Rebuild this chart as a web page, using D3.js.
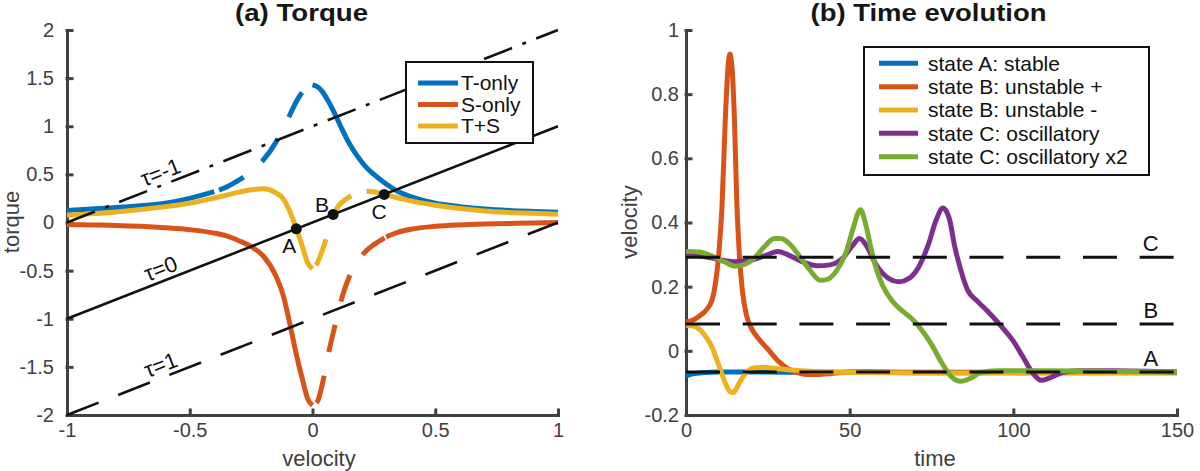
<!DOCTYPE html>
<html>
<head>
<meta charset="utf-8">
<script src="https://cdn.jsdelivr.net/npm/d3@7"></script>
<style>
    body { margin: 0; background: #fff; }
    text { font-family: "Liberation Sans", Arial, Helvetica, sans-serif; }
</style>
</head>
<body>
<div id="chart"></div>
<script>
'use strict';

/* ---------- Data: panel (a) torque vs velocity ---------- */
const velocityGrid = [-1, -0.9, -0.8, -0.7, -0.6, -0.5, -0.4, -0.35, -0.3, -0.25, -0.2, -0.15, -0.12,
    -0.09, -0.065, -0.04, -0.02, 0, 0.02, 0.04, 0.06, 0.085, 0.1, 0.12, 0.15, 0.18, 0.22, 0.25,
    0.3, 0.35, 0.4, 0.5, 0.6, 0.7, 0.8, 0.9, 1];
const torqueTOnly = [0.125, 0.14, 0.155, 0.175, 0.2, 0.25, 0.32, 0.37, 0.44, 0.53, 0.65, 0.83, 0.97,
    1.13, 1.26, 1.36, 1.41, 1.43, 1.41, 1.36, 1.28, 1.16, 1.08, 0.97, 0.82, 0.7, 0.57, 0.5,
    0.4, 0.32, 0.27, 0.2, 0.165, 0.14, 0.125, 0.115, 0.107];
const torqueSOnly = [-0.02, -0.025, -0.03, -0.04, -0.055, -0.075, -0.11, -0.14, -0.19, -0.25, -0.35, -0.55, -0.75,
    -1.08, -1.38, -1.64, -1.83, -1.9, -1.86, -1.68, -1.42, -1.14, -0.98, -0.78, -0.56, -0.42, -0.29, -0.23,
    -0.15, -0.1, -0.07, -0.04, -0.025, -0.016, -0.01, -0.005, 0];
const torqueTS = [0.075, 0.09, 0.11, 0.135, 0.165, 0.2, 0.255, 0.285, 0.315, 0.34, 0.35, 0.31, 0.25,
    0.1, -0.07, -0.26, -0.42, -0.48, -0.42, -0.29, -0.13, 0.08, 0.15, 0.21, 0.265, 0.305, 0.325, 0.32,
    0.285, 0.255, 0.225, 0.18, 0.145, 0.12, 0.105, 0.095, 0.085];
const torqueNames = ['T-only', 'S-only', 'T+S'];
// velocity interval drawn dashed (unstable branch) for each torque curve
const unstableRanges = [[-0.4, 0], [0, 0.3], [0, 0.22]];
const tauValues = [-1, 0, 1];
const fixedPointNames = ['A', 'B', 'C'];
const fixedPointVelocity = [-0.066, 0.084, 0.292];
const torqueXTicks = [-1, -0.5, 0, 0.5, 1];
const torqueYTicks = [-2, -1.5, -1, -0.5, 0, 0.5, 1, 1.5, 2];

/* ---------- Data: panel (b) velocity vs time ---------- */
const stateA = [[0, -0.078], [2, -0.072], [5, -0.068], [10, -0.066], [20, -0.066], [40, -0.067],
    [60, -0.067], [80, -0.067], [100, -0.067], [120, -0.067], [150, -0.067]];
const stateBPlus = [[0, 0.09], [2, 0.095], [4, 0.108], [6, 0.125], [8, 0.16], [9, 0.21], [10, 0.3],
    [11, 0.45], [12, 0.72], [12.8, 0.88], [13.4, 0.925], [14, 0.89], [14.8, 0.72], [15.5, 0.47],
    [16.3, 0.3], [17.2, 0.19], [18.5, 0.11], [20, 0.07], [22, 0.04], [25, 0.005], [28, -0.03],
    [31, -0.055], [34, -0.068], [37, -0.074], [40, -0.074], [45, -0.07], [50, -0.066], [55, -0.065],
    [60, -0.066], [70, -0.068], [100, -0.068], [150, -0.068]];
const stateBMinus = [[0, 0.08], [2, 0.078], [4, 0.068], [6, 0.045], [8, 0.01], [10, -0.045], [12, -0.1],
    [13.5, -0.128], [14.5, -0.13], [15.5, -0.115], [17, -0.088], [19, -0.062], [21, -0.053], [24, -0.052],
    [28, -0.056], [35, -0.062], [45, -0.066], [60, -0.068], [80, -0.069], [150, -0.068]];
const stateC = [[0, 0.3], [5, 0.295], [10, 0.285], [15, 0.278], [20, 0.283], [25, 0.3], [28, 0.31],
    [31, 0.3], [35, 0.28], [40, 0.265], [44, 0.268], [48, 0.29], [51, 0.33], [53, 0.35], [55, 0.33],
    [58, 0.27], [62, 0.225], [65, 0.215], [68, 0.225], [71, 0.26], [74, 0.33], [76.5, 0.41],
    [78.5, 0.445], [80.5, 0.41], [82, 0.33], [84, 0.25], [86, 0.19], [89, 0.155], [92, 0.125],
    [96, 0.08], [100, 0.03], [103, -0.02], [106, -0.07], [108.5, -0.092], [111, -0.085], [115, -0.068],
    [120, -0.062], [130, -0.062], [150, -0.066]];
const stateC2 = [[0, 0.31], [4, 0.308], [8, 0.295], [12, 0.276], [15, 0.264], [18, 0.27], [21, 0.29],
    [24, 0.325], [27, 0.35], [29, 0.35], [32, 0.33], [35, 0.29], [38, 0.25], [41, 0.22], [43, 0.222],
    [46, 0.25], [49, 0.31], [51, 0.38], [53.3, 0.44], [55, 0.39], [56.5, 0.32], [58, 0.26], [60, 0.205],
    [63, 0.155], [66, 0.125], [69, 0.1], [72, 0.065], [75, 0.02], [78, -0.035], [81, -0.08], [84, -0.095],
    [87, -0.085], [90, -0.068], [95, -0.062], [105, -0.062], [120, -0.063], [150, -0.066]];
const stateNames = ['state A: stable', 'state B: unstable +', 'state B: unstable -',
    'state C: oscillatory', 'state C: oscillatory x2'];
const timeXTicks = [0, 50, 100, 150];
const timeYTicks = [-0.2, 0, 0.2, 0.4, 0.6, 0.8, 1];

/* ---------- Style ---------- */
const colors = ['#0072BD', '#D95319', '#EDB120', '#7E2F8E', '#77AC30'];
const axisColor = '#404040';
const curveWidth = 5;

const svg = d3.select('#chart').append('svg')
    .attr('width', 1200)
    .attr('height', 471)
    .style('background', '#fff');

/*
drawAxes: MATLAB-like left/bottom axes with inward ticks
*/
function drawAxes(g, x, y, xTicks, yTicks, yPad) {
    const xAxis = g.append('g')
        .attr('transform', `translate(0,${y.range()[0]})`)
        .call(d3.axisBottom(x).tickValues(xTicks).tickFormat(d => String(d))
            .tickSizeInner(-5).tickSizeOuter(0).tickPadding(8));
    const yAxis = g.append('g')
        .attr('transform', `translate(${x.range()[0]},0)`)
        .call(d3.axisLeft(y).tickValues(yTicks).tickFormat(d => String(d))
            .tickSizeInner(-5).tickSizeOuter(0).tickPadding(yPad));
    [xAxis, yAxis].forEach(a => {
        a.attr('font-family', null).attr('font-size', null);
        a.selectAll('path, line').attr('stroke', axisColor).attr('stroke-width', 3)
            .attr('stroke-linecap', 'square');
        a.selectAll('text').attr('fill', axisColor).attr('font-size', 20);
    });
}

/*
drawTitle: bold panel title, stretched to the width seen in the figure
*/
function drawTitle(g, cx, label, width) {
    g.append('text')
        .attr('x', cx).attr('y', 21)
        .attr('text-anchor', 'middle')
        .attr('font-size', 24).attr('font-weight', 'bold').attr('fill', '#161616')
        .attr('textLength', width).attr('lengthAdjust', 'spacingAndGlyphs')
        .text(label);
}

/*
drawLegend: boxed legend with line samples
*/
function drawLegend(g, cfg, names) {
    const lg = g.append('g');
    lg.append('rect')
        .attr('x', cfg.x).attr('y', cfg.y)
        .attr('width', cfg.w).attr('height', cfg.h)
        .attr('fill', '#fff').attr('stroke', '#111').attr('stroke-width', 2);
    names.forEach((name, i) => {
        const ry = cfg.row0 + i * cfg.rowStep;
        lg.append('line')
            .attr('x1', cfg.lineX[0]).attr('x2', cfg.lineX[1])
            .attr('y1', ry).attr('y2', ry)
            .attr('stroke', colors[i]).attr('stroke-width', curveWidth);
        lg.append('text')
            .attr('x', cfg.textX).attr('y', ry).attr('dy', '0.35em')
            .attr('font-size', 21).attr('fill', '#111')
            .text(name);
    });
}

/* `````````````````````````````````\
    Class: TorquePanel  (a)          |
 ``````````````````````````````````*/
class TorquePanel {

    constructor(_svg) {
        this.svg = _svg;
        this.initVis();
    }

    initVis() {
        const vis = this;
        vis.x = d3.scaleLinear().domain([-1, 1]).range([67, 558]);
        vis.y = d3.scaleLinear().domain([-2, 2]).range([415, 30]);
        vis.g = vis.svg.append('g').attr('id', 'panelA');
        vis.line = d3.line()
            .x(d => vis.x(d[0]))
            .y(d => vis.y(d[1]))
            .curve(d3.curveMonotoneX);
        vis.wrangleData();
    }

    wrangleData() {
        const vis = this;
        const values = [torqueTOnly, torqueSOnly, torqueTS];
        // split each curve in solid / dashed / solid pieces
        vis.pieces = [];
        values.forEach((vals, i) => {
            const pts = velocityGrid.map((v, j) => [v, vals[j]]);
            const [lo, hi] = unstableRanges[i];
            vis.pieces.push({c: i, dashed: false, pts: pts.filter(p => p[0] <= lo)});
            vis.pieces.push({c: i, dashed: true, pts: pts.filter(p => p[0] >= lo && p[0] <= hi)});
            vis.pieces.push({c: i, dashed: false, pts: pts.filter(p => p[0] >= hi)});
        });
        vis.fixed = fixedPointNames.map((n, i) => ({name: n, v: fixedPointVelocity[i]}));
        vis.updateVis();
    }

    updateVis() {
        const vis = this;
        drawAxes(vis.g, vis.x, vis.y, torqueXTicks, torqueYTicks, 13);

        // torque curves
        vis.g.append('g').selectAll('path')
            .data(vis.pieces)
            .join('path')
            .attr('d', d => vis.line(d.pts))
            .attr('fill', 'none')
            .attr('stroke', d => colors[d.c])
            .attr('stroke-width', curveWidth)
            .attr('stroke-dasharray', d => d.dashed ? '28,24' : null)
            .attr('stroke-dashoffset', d => d.dashed ? 47 : null);

        // tau lines: torque = v - tau
        const dashes = {'-1': '30,11,4,11', '0': null, '1': '34,21'};
        const angle = Math.atan2(vis.y(1) - vis.y(0), vis.x(1) - vis.x(0)) * 180 / Math.PI;
        const tauG = vis.g.append('g');
        tauValues.forEach(tau => {
            tauG.append('line')
                .attr('x1', vis.x(-1)).attr('y1', vis.y(-1 - tau))
                .attr('x2', vis.x(1)).attr('y2', vis.y(1 - tau))
                .attr('stroke', '#111').attr('stroke-width', 2.6)
                .attr('stroke-dasharray', dashes[String(tau)]);
            tauG.append('text')
                .attr('transform', `translate(${vis.x(-0.6)},${vis.y(-0.6 - tau)}) rotate(${angle})`)
                .attr('y', -5)
                .attr('text-anchor', 'middle')
                .attr('font-size', 22)
                .attr('fill', '#111')
                .text(`τ=${tau}`);
        });

        // fixed points
        const labelOffset = {A: [-7, 17], B: [-11, -10], C: [-5, 17]};
        const fp = vis.g.append('g').selectAll('g')
            .data(vis.fixed)
            .join('g')
            .attr('transform', d => `translate(${vis.x(d.v)},${vis.y(d.v)})`);
        fp.append('circle').attr('r', 5.5).attr('fill', '#111');
        fp.append('text')
            .attr('x', d => labelOffset[d.name][0])
            .attr('y', d => labelOffset[d.name][1])
            .attr('dy', '0.35em')
            .attr('text-anchor', 'middle')
            .attr('font-size', 21)
            .attr('fill', '#111')
            .text(d => d.name);

        // titles / labels
        drawTitle(vis.g, 301.5, '(a) Torque', 133);
        vis.g.append('text')
            .attr('x', 319).attr('y', 466)
            .attr('text-anchor', 'middle')
            .attr('font-size', 22).attr('fill', axisColor)
            .text('velocity');
        vis.g.append('text')
            .attr('transform', 'translate(19,222) rotate(-90)')
            .attr('text-anchor', 'middle')
            .attr('font-size', 22).attr('fill', axisColor)
            .text('torque');

        drawLegend(vis.g, {x: 406, y: 62, w: 127, h: 81, row0: 83, rowStep: 21.5,
            lineX: [418, 458], textX: 461}, torqueNames);
    }
}

/* `````````````````````````````````\
    Class: TimePanel  (b)            |
 ``````````````````````````````````*/
class TimePanel {

    constructor(_svg) {
        this.svg = _svg;
        this.initVis();
    }

    initVis() {
        const vis = this;
        vis.x = d3.scaleLinear().domain([0, 150]).range([686, 1177]);
        vis.y = d3.scaleLinear().domain([-0.2, 1]).range([415, 30]);
        vis.g = vis.svg.append('g').attr('id', 'panelB');
        vis.line = d3.line()
            .x(d => vis.x(d[0]))
            .y(d => vis.y(d[1]))
            .curve(d3.curveMonotoneX);
        vis.wrangleData();
    }

    wrangleData() {
        const vis = this;
        vis.series = [stateA, stateBPlus, stateBMinus, stateC, stateC2]
            .map((pts, i) => ({c: i, pts: pts}));
        vis.fixed = fixedPointNames.map((n, i) => ({name: n, v: fixedPointVelocity[i]}));
        vis.updateVis();
    }

    updateVis() {
        const vis = this;
        drawAxes(vis.g, vis.x, vis.y, timeXTicks, timeYTicks, 7);

        vis.g.append('g').selectAll('path')
            .data(vis.series)
            .join('path')
            .attr('d', d => vis.line(d.pts))
            .attr('fill', 'none')
            .attr('stroke', d => colors[d.c])
            .attr('stroke-width', curveWidth)
            .attr('stroke-linejoin', 'round');

        // fixed-point velocity levels
        const lv = vis.g.append('g').selectAll('g')
            .data(vis.fixed)
            .join('g');
        lv.append('line')
            .attr('x1', vis.x(0)).attr('x2', vis.x(150))
            .attr('y1', d => vis.y(d.v)).attr('y2', d => vis.y(d.v))
            .attr('stroke', '#111').attr('stroke-width', 3)
            .attr('stroke-dasharray', '34,22.7');
        lv.append('text')
            .attr('x', vis.x(142))
            .attr('y', d => vis.y(d.v) - 14)
            .attr('dy', '0.35em')
            .attr('text-anchor', 'middle')
            .attr('font-size', 22)
            .attr('fill', '#111')
            .text(d => d.name);

        drawTitle(vis.g, 928.5, '(b) Time evolution', 236);
        vis.g.append('text')
            .attr('x', 935).attr('y', 466)
            .attr('text-anchor', 'middle')
            .attr('font-size', 22).attr('fill', axisColor)
            .text('time');
        vis.g.append('text')
            .attr('transform', 'translate(637,222) rotate(-90)')
            .attr('text-anchor', 'middle')
            .attr('font-size', 22).attr('fill', axisColor)
            .text('velocity');

        drawLegend(vis.g, {x: 864, y: 47, w: 285, h: 128, row0: 63.3, rowStep: 23.35,
            lineX: [879, 918], textX: 928}, stateNames);
    }
}

new TorquePanel(svg);
new TimePanel(svg);
</script>
</body>
</html>
